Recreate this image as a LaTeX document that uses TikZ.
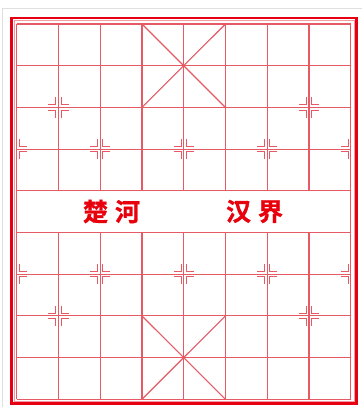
\documentclass[tikz,border=0pt]{standalone}
\usepackage{fontspec}
\newfontfamily\cjk[FakeBold=1.2]{Noto Sans CJK SC Bold}
\definecolor{gridred}{HTML}{E65A66}
\definecolor{borderred}{HTML}{E60012}
\definecolor{textred}{HTML}{E8000C}
\begin{document}
\begin{tikzpicture}[x=1pt,y=-1pt,
  gridline/.style={draw=gridred,line width=1.15pt},
  markline/.style={draw=gridred,line width=1pt},
  rivertext/.style={text=textred,font=\cjk\fontsize{25}{25}\selectfont,inner sep=0pt}]
\useasboundingbox (0,0) rectangle (362,407);
\fill[white] (0,0) rectangle (362,407);
% faint screenshot frame
\draw[color=gray!25,line width=0.8pt] (2,407) -- (2,8) -- (362,8);
% outer border
\draw[draw=borderred,line width=2.6pt] (11.5,18) rectangle (356.7,403.7);
\draw[draw=gridred!60,line width=0.8pt] (14,20.5) rectangle (354.2,401.2);
\def\xo{16.7}\def\dx{41.75}\def\yo{24}\def\dy{41.7}
% horizontal lines
\foreach \r in {0,...,9}
  \draw[gridline] (\xo,\yo+\r*\dy) -- (\xo+8*\dx,\yo+\r*\dy);
% vertical lines
\foreach \c in {0,...,8} {
  \draw[gridline] (\xo+\c*\dx,\yo) -- (\xo+\c*\dx,\yo+4*\dy);
  \draw[gridline] (\xo+\c*\dx,\yo+5*\dy) -- (\xo+\c*\dx,\yo+9*\dy);
}
\draw[gridline] (\xo,\yo+4*\dy) -- (\xo,\yo+5*\dy);
\draw[gridline] (\xo+8*\dx,\yo+4*\dy) -- (\xo+8*\dx,\yo+5*\dy);
% palaces
\draw[gridline] (\xo+3*\dx,\yo) -- (\xo+5*\dx,\yo+2*\dy);
\draw[gridline] (\xo+5*\dx,\yo) -- (\xo+3*\dx,\yo+2*\dy);
\draw[gridline] (\xo+3*\dx,\yo+7*\dy) -- (\xo+5*\dx,\yo+9*\dy);
\draw[gridline] (\xo+5*\dx,\yo+7*\dy) -- (\xo+3*\dx,\yo+9*\dy);
% position marks
\def\g{2.6}\def\a{7.5}
\newcommand{\markL}[2]{%
  \draw[markline] (#1-\g-\a,#2-\g) -- (#1-\g,#2-\g) -- (#1-\g,#2-\g-\a);
  \draw[markline] (#1-\g-\a,#2+\g) -- (#1-\g,#2+\g) -- (#1-\g,#2+\g+\a);}
\newcommand{\markR}[2]{%
  \draw[markline] (#1+\g+\a,#2-\g) -- (#1+\g,#2-\g) -- (#1+\g,#2-\g-\a);
  \draw[markline] (#1+\g+\a,#2+\g) -- (#1+\g,#2+\g) -- (#1+\g,#2+\g+\a);}
% cannons
\foreach \c/\r in {1/2,7/2,1/7,7/7} {
  \markL{\xo+\c*\dx}{\yo+\r*\dy}\markR{\xo+\c*\dx}{\yo+\r*\dy}}
% soldiers
\foreach \r in {3,6} {
  \markR{\xo}{\yo+\r*\dy}
  \foreach \c in {2,4,6} {\markL{\xo+\c*\dx}{\yo+\r*\dy}\markR{\xo+\c*\dx}{\yo+\r*\dy}}
  \markL{\xo+8*\dx}{\yo+\r*\dy}
}
% river text
\node[rivertext] (chuhe) at (111.5,211.5) {楚\hspace{7pt}河};
\node[rivertext] (hanjie) at (254.5,211.5) {汉\hspace{7pt}界};
\end{tikzpicture}
\end{document}
